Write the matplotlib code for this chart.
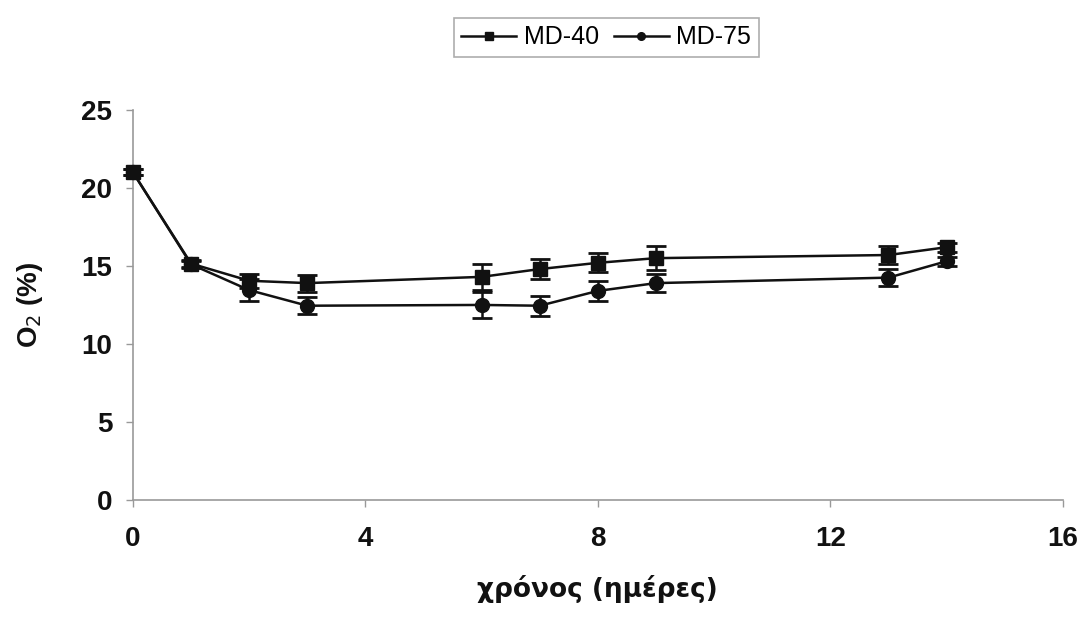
import numpy as np
import matplotlib.pyplot as plt

days = [0, 1, 2, 3, 6, 7, 8, 9, 13, 14]
md40 = [21.0, 15.15, 14.05, 13.9, 14.3, 14.8, 15.2, 15.5, 15.7, 16.2]
md40_err = [0.2, 0.2, 0.45, 0.55, 0.85, 0.65, 0.6, 0.75, 0.6, 0.3]
md75 = [21.0, 15.1, 13.45, 12.45, 12.5, 12.45, 13.4, 13.9, 14.25, 15.3]
md75_err = [0.2, 0.2, 0.7, 0.55, 0.85, 0.65, 0.65, 0.6, 0.55, 0.3]

x_ticks = [0, 4, 8, 12, 16]
y_ticks = [0, 5, 10, 15, 20, 25]

plt.rcParams['font.family'] = ['Liberation Sans', 'DejaVu Sans']

fig = plt.figure(figsize=(10.9, 6.32), dpi=100)
ax = fig.add_axes([0.122, 0.209, 0.853, 0.617])

for y, err, mk, name in [(md40, md40_err, 's', 'MD-40'), (md75, md75_err, 'o', 'MD-75')]:
    cont = ax.errorbar(days, y, yerr=err, color='#111111', marker=mk, markersize=10,
                       linewidth=1.8, elinewidth=1.8, capsize=7, capthick=2,
                       label=name, zorder=3)
    for art in [cont.lines[0]] + list(cont.lines[1]) + list(cont.lines[2]):
        art.set_clip_on(False)

ax.set_xlim(0, 16)
ax.set_ylim(0, 25)
ax.set_xticks(x_ticks)
ax.set_yticks(y_ticks)
ax.spines['top'].set_visible(False)
ax.spines['right'].set_visible(False)
for s in ['left', 'bottom']:
    ax.spines[s].set_color('#999999')
    ax.spines[s].set_linewidth(1.2)
ax.tick_params(axis='both', colors='#999999', length=5, width=1, labelsize=20,
               labelcolor='#111111')
ax.tick_params(axis='x', pad=14)
ax.tick_params(axis='y', pad=10)
for lab in ax.get_xticklabels() + ax.get_yticklabels():
    lab.set_fontweight('bold')

ax.set_ylabel('O$_2$ (%)', fontsize=20, fontweight='bold', color='#111111', labelpad=26)
ax.set_xlabel('χρόνος (ημέρες)', fontsize=19, fontweight='bold', color='#111111',
              family=['DejaVu Sans'], labelpad=16)

handles, labels = ax.get_legend_handles_labels()
leg = fig.legend([h[0] for h in handles], labels, loc='center', bbox_to_anchor=(0.556, 0.941),
                 ncol=2, frameon=True, fancybox=False, fontsize=18, handlelength=2.2,
                 columnspacing=0.6, handletextpad=0.3, borderpad=0.3, markerscale=0.55)
leg.get_frame().set_edgecolor('#999999')
leg.get_frame().set_linewidth(1.2)

fig.savefig('out.png', dpi=100)
